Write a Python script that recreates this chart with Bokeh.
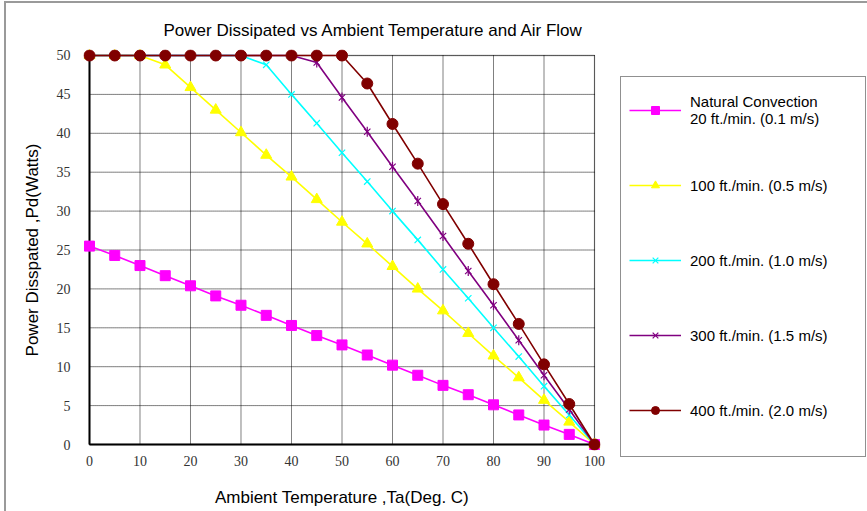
from bokeh.plotting import figure
from bokeh.models import Range1d, Legend, LegendItem, FixedTicker, BoxAnnotation, InlineStyleSheet
from bokeh.embed import file_html
from bokeh.resources import INLINE

# ---- data ----
temps = [0, 5, 10, 15, 20, 25, 30, 35, 40, 45, 50, 55, 60, 65, 70, 75, 80, 85, 90, 95, 100]
natural = [25.5, 24.3, 23.0, 21.7, 20.4, 19.1, 17.9, 16.6, 15.3, 14.0, 12.8, 11.5, 10.2, 8.9, 7.6, 6.4, 5.1, 3.8, 2.5, 1.3, 0.0]
flow100 = [50, 50, 50, 48.8, 45.9, 43.0, 40.1, 37.2, 34.4, 31.5, 28.6, 25.8, 22.9, 20.0, 17.2, 14.3, 11.4, 8.6, 5.7, 2.9, 0.0]
flow200 = [50, 50, 50, 50, 50, 50, 50, 48.8, 45.0, 41.3, 37.5, 33.8, 30.0, 26.3, 22.5, 18.8, 15.0, 11.3, 7.5, 3.8, 0.0]
flow300 = [50, 50, 50, 50, 50, 50, 50, 50, 50, 49.1, 44.6, 40.2, 35.7, 31.3, 26.8, 22.3, 17.9, 13.4, 8.9, 4.5, 0.0]
flow400 = [50, 50, 50, 50, 50, 50, 50, 50, 50, 50, 50, 46.4, 41.2, 36.1, 30.9, 25.8, 20.6, 15.5, 10.3, 5.2, 0.0]

series_labels = [
    "Natural Convection\n20 ft./min. (0.1 m/s)",
    "100 ft./min. (0.5 m/s)",
    "200 ft./min. (1.0 m/s)",
    "300 ft./min. (1.5 m/s)",
    "400 ft./min. (2.0 m/s)",
]
x_ticks = [0, 10, 20, 30, 40, 50, 60, 70, 80, 90, 100]
y_ticks = [0, 5, 10, 15, 20, 25, 30, 35, 40, 45, 50]
X_MIN, X_MAX = 0, 100
Y_MIN, Y_MAX = 0, 50

SANS = "Liberation Sans"
SERIF = "Liberation Serif"

# a small padding so markers on the plot edge are not clipped
XPAD, YPAD = 1.188, 0.771

# thin grey page frame (top and left edges) as in the original image
frame_css = InlineStyleSheet(css="""
:host::after {
  content: "";
  position: absolute;
  left: 4px; top: 1px; right: -20px; bottom: -20px;
  border-left: 2px solid #9a9a9a;
  border-top: 2px solid #9a9a9a;
  pointer-events: none;
  z-index: 10;
}
""")

p = figure(
    frame_width=517, frame_height=401,
    x_range=Range1d(X_MIN - XPAD, X_MAX + XPAD), y_range=Range1d(Y_MIN - YPAD, Y_MAX + YPAD),
    min_border_left=83, min_border_right=266, min_border_top=49, min_border_bottom=59,
    output_backend="svg", toolbar_location=None,
    title="Power Dissipated vs Ambient Temperature and Air Flow",
    stylesheets=[frame_css],
)
p.background_fill_color = "white"
p.border_fill_color = "white"
p.outline_line_color = None

p.title.text_font = SANS
p.title.text_font_size = "17px"
p.title.text_font_style = "normal"
p.title.text_color = "black"
p.title.align = "left"
p.title.offset = 80
p.title.standoff = 20

p.xaxis.ticker = FixedTicker(ticks=x_ticks)
p.yaxis.ticker = FixedTicker(ticks=y_ticks)
for ax in (p.xaxis, p.yaxis):
    ax.axis_line_color = None
    ax.major_tick_line_color = None
    ax.minor_tick_line_color = None
    ax.major_tick_in = 0
    ax.major_tick_out = 0
    ax.minor_tick_out = 0
    ax.major_label_text_font = SERIF
    ax.major_label_text_font_size = "14px"
    ax.major_label_text_color = "#333333"
    ax.axis_label_text_font = SANS
    ax.axis_label_text_font_size = "17px"
    ax.axis_label_text_font_style = "normal"
    ax.axis_label_text_color = "black"

p.xaxis.axis_label = "Ambient Temperature ,Ta(Deg. C)"
p.yaxis.axis_label = "Power Disspated ,Pd(Watts)"
p.xaxis.major_label_standoff = 5
p.yaxis.major_label_standoff = 13
p.xaxis.axis_label_standoff = 19
p.yaxis.axis_label_standoff = 12

p.xgrid.visible = False
p.ygrid.visible = False

# dotted grid lines at the tick positions, limited to the plot box
p.segment(x0=x_ticks, y0=[Y_MIN] * len(x_ticks), x1=x_ticks, y1=[Y_MAX] * len(x_ticks),
          line_color="black", line_dash="1 1", line_width=1, line_alpha=1.0)
p.segment(x0=[X_MIN] * len(y_ticks), y0=y_ticks, x1=[X_MAX] * len(y_ticks), y1=y_ticks,
          line_color="black", line_dash="1 1", line_width=1, line_alpha=1.0)

# plot box
box = BoxAnnotation(left=X_MIN, right=X_MAX, bottom=Y_MIN, top=Y_MAX,
                    fill_alpha=0, line_color="black", line_width=1.3, level="underlay")
p.add_layout(box)
# heavier axis lines on left and bottom
p.segment(x0=[X_MIN, X_MIN], y0=[Y_MIN, Y_MIN], x1=[X_MAX, X_MIN], y1=[Y_MIN, Y_MAX],
          line_color="black", line_width=2)

lw = 1.6
# Natural convection
l0 = p.line(temps, natural, line_color="#FF00FF", line_width=lw)
m0 = p.scatter(temps, natural, marker="square", size=10, fill_color="#FF00FF", line_color="#FF00FF")
# 100 ft/min
l1 = p.line(temps, flow100, line_color="#FFFF00", line_width=lw)
m1 = p.scatter(temps, flow100, marker="triangle", size=11, fill_color="#FFFF00", line_color="#FFFF00")
# 200 ft/min
l2 = p.line(temps, flow200, line_color="#00FFFF", line_width=lw)
m2 = p.scatter(temps, flow200, marker="x", size=9, line_color="#00FFFF", line_width=1.2)
# 300 ft/min
l3 = p.line(temps, flow300, line_color="#800080", line_width=lw)
m3 = p.scatter(temps, flow300, marker="x", size=9, line_color="#800080", line_width=1.2)
m3b = p.scatter(temps, flow300, marker="dash", angle=1.5708, size=10, line_color="#800080", line_width=1.2)
# 400 ft/min
l4 = p.line(temps, flow400, line_color="#800000", line_width=lw)
m4 = p.scatter(temps, flow400, marker="circle", size=11, fill_color="#800000", line_color="#800000")

items = [
    LegendItem(label=series_labels[0], renderers=[l0, m0]),
    LegendItem(label=series_labels[1], renderers=[l1, m1]),
    LegendItem(label=series_labels[2], renderers=[l2, m2]),
    LegendItem(label=series_labels[3], renderers=[l3, m3, m3b]),
    LegendItem(label=series_labels[4], renderers=[l4, m4]),
]
legend = Legend(
    items=items, location=(20, -7), orientation="vertical",
    glyph_width=52, glyph_height=20, label_standoff=9,
    label_width=167, label_height=50, spacing=25, padding=8, margin=0,
    title=" ", title_location="below", title_standoff=3,
    title_text_font_size="9px",
    border_line_color="#222222", border_line_width=1.5,
    background_fill_color="white", background_fill_alpha=1,
    label_text_font=SANS, label_text_font_size="15px", label_text_color="black",
)
p.add_layout(legend, "right")

open("out.html", "w").write(file_html(p, INLINE))
